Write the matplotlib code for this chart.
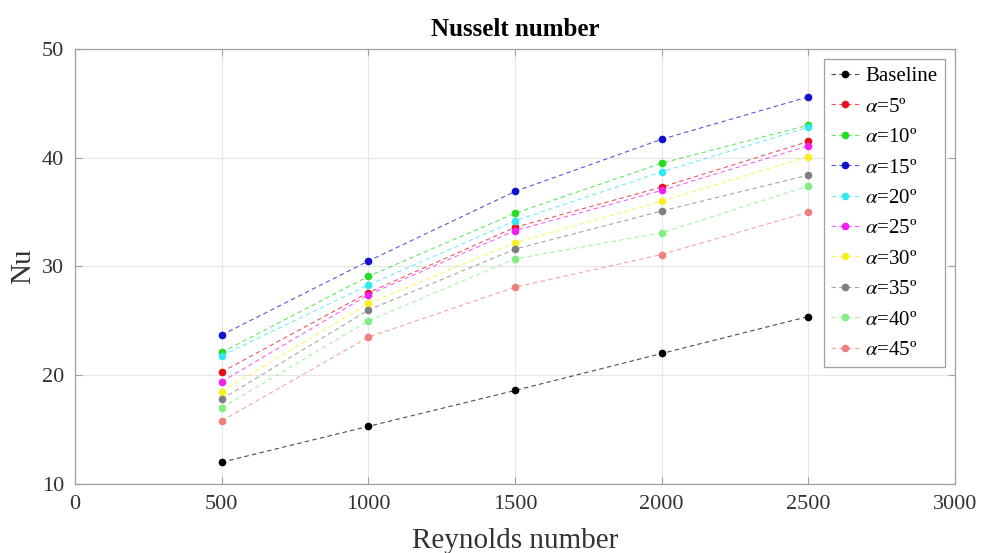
import matplotlib
matplotlib.use("Agg")
import matplotlib.pyplot as plt
from matplotlib.colors import to_rgba

plt.rcParams['font.family'] = ['Liberation Serif', 'DejaVu Serif']
plt.rcParams['mathtext.fontset'] = 'stix'

reynolds = [500, 1000, 1500, 2000, 2500]

labels = ['Baseline', r'$\alpha$=5º', r'$\alpha$=10º', r'$\alpha$=15º', r'$\alpha$=20º',
          r'$\alpha$=25º', r'$\alpha$=30º', r'$\alpha$=35º', r'$\alpha$=40º', r'$\alpha$=45º']

nu_base = [12.0, 15.3, 18.6, 22.0, 25.4]
nu_a5 = [20.3, 27.6, 33.6, 37.3, 41.5]
nu_a10 = [22.1, 29.1, 34.9, 39.5, 43.0]
nu_a15 = [23.7, 30.5, 36.9, 41.7, 45.6]
nu_a20 = [21.8, 28.3, 34.2, 38.7, 42.8]
nu_a25 = [19.4, 27.4, 33.3, 37.0, 41.1]
nu_a30 = [18.5, 26.6, 32.2, 36.0, 40.1]
nu_a35 = [17.8, 26.0, 31.6, 35.1, 38.4]
nu_a40 = [17.0, 25.0, 30.7, 33.1, 37.4]
nu_a45 = [15.8, 23.5, 28.1, 31.1, 35.0]

series = [nu_base, nu_a5, nu_a10, nu_a15, nu_a20, nu_a25, nu_a30, nu_a35, nu_a40, nu_a45]
colors = ['#000000', '#e8101a', '#22dd22', '#1010d0', '#33e8f0', '#f020f0',
          '#f8f020', '#7f7f7f', '#80ee80', '#f08080']

fig = plt.figure(figsize=(9.81, 5.53), dpi=100)
ax = fig.add_axes([0.0765, 0.1248, 0.897, 0.7866])

for vals, lab, c in zip(series, labels, colors):
    ax.plot(reynolds, vals, linestyle=(0, (4, 3)), linewidth=0.8,
            color=to_rgba(c, 0.7), marker='o', markersize=4.5,
            markerfacecolor=c, markeredgecolor=c, label=lab)

ax.set_xlim(0, 3000)
ax.set_ylim(10, 50)
ax.set_xticks([0, 500, 1000, 1500, 2000, 2500, 3000])
ax.set_yticks([10, 20, 30, 40, 50])
ax.grid(True, color='#e6e6e6', linewidth=0.8)
ax.set_axisbelow(True)
for s in ax.spines.values():
    s.set_color('#a0a0a0')
    s.set_linewidth(0.9)
ax.tick_params(direction='in', top=True, right=True, length=5, color='#a0a0a0',
               labelsize=16, labelcolor='#333333', pad=8)

ax.set_title('Nusselt number', fontsize=18, fontweight='bold', pad=9)
ax.set_xlabel('Reynolds number', fontsize=21, labelpad=10, color='#333333')
ax.set_ylabel('Nu', fontsize=21, labelpad=4, color='#333333')

leg = ax.legend(loc='upper right', fontsize=15, fancybox=False, framealpha=1,
                edgecolor='#a0a0a0', handlelength=1.4, labelspacing=0.52,
                borderaxespad=0.5, handletextpad=0.25, borderpad=0.35)
leg.get_frame().set_linewidth(0.9)

fig.savefig('out.png', dpi=100)
